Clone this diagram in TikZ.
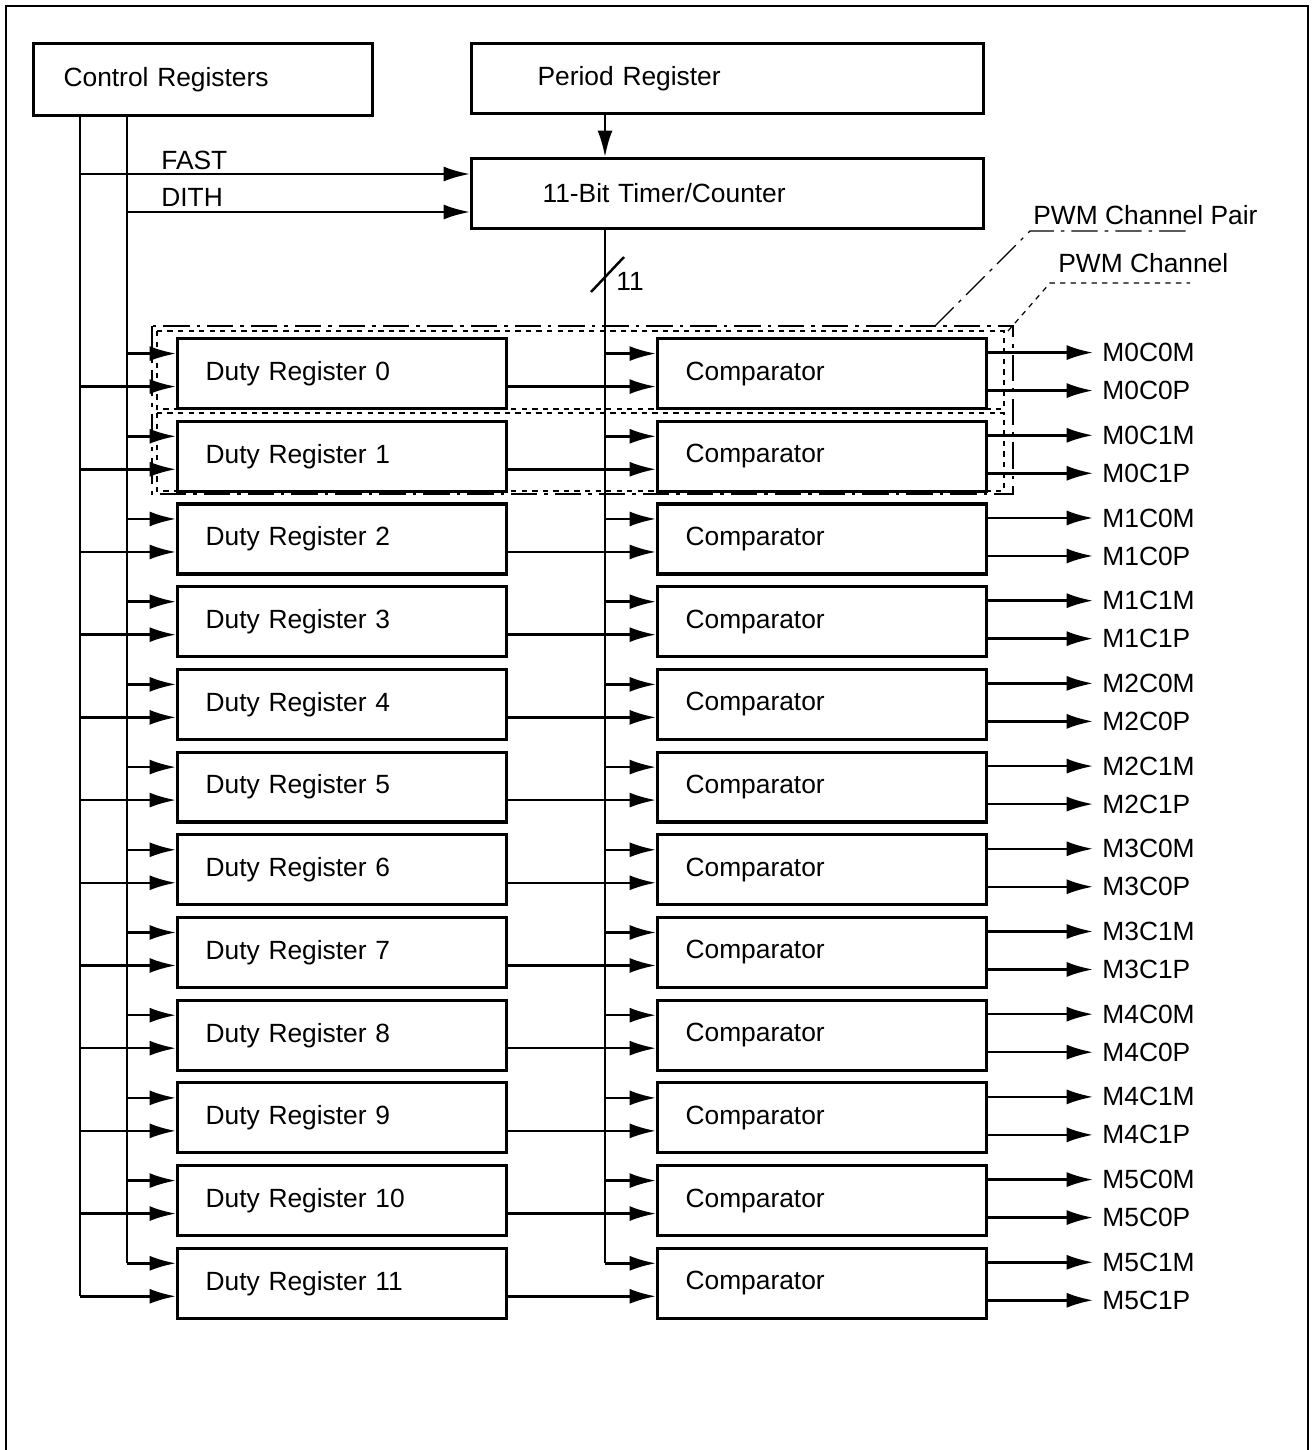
\documentclass[tikz,border=0pt]{standalone}
\usepackage{fontspec}
\setmainfont{Liberation Sans}
\usetikzlibrary{arrows.meta}
\begin{document}
\begin{tikzpicture}[
    x=0.02cm, y=-0.02cm,
    >={Latex[length=15pt,width=8.5pt]},
    font=\fontsize{15pt}{18pt}\selectfont,
    regbox/.style={
        draw,
        line width=1.8pt,
        anchor=north west,
        align=left,
        minimum height=1.4cm,
        inner xsep=0.56cm,
        text width=5.46cm
    },
    wire/.style={line width=1.4pt},
    lbl/.style={inner sep=0.18cm},
    pairline/.style={line width=0.7pt, dash pattern=on 15pt off 4pt on 2pt off 4pt},
    chanline/.style={line width=0.7pt, dash pattern=on 3pt off 3pt}
]

\useasboundingbox (0,0) rectangle (1313,1450);

% Frame
\draw[line width=0.9pt] (6,1450) -- (6,6) -- (1308,6) -- (1308,1450);

% Top blocks
\node[regbox, minimum height=1.44cm, inner xsep=0.6cm, text width=5.58cm] (ctrl) at (32,42) {Control Registers};
\node[regbox, inner xsep=1.32cm, text width=7.6cm] (period) at (470,42) {Period Register};
\node[regbox, inner xsep=1.42cm, text width=7.4cm] (timer) at (470,157) {11-Bit Timer/Counter};

% Control lines and timer bus
\coordinate (ca) at (80,114);
\coordinate (cb) at (127,114);
\coordinate (bus) at (605,227);
\coordinate (fast) at (470,174);
\coordinate (dith) at (470,212);

\draw[wire,->] (period.south -| bus) -- (timer.north -| bus);
\draw[wire,->] (ca |- fast) -- (fast);
\draw[wire,->] (cb |- dith) -- (dith);
\node[anchor=south west, inner sep=0pt] (fastlbl) at (161,170) {FAST};
\node[anchor=south west, inner sep=0pt] (dithlbl) at (161,207) {DITH};

% Bus width
\draw[wire] (591,292) -- (624,257);
\node[lbl, anchor=west] (buswidth) at (607,281) {11};

% Registers and comparators
\foreach \i in {0,...,11} {
    \pgfmathsetmacro{\rowtop}{337+82.7*\i}
    \pgfmathtruncatemacro{\pairno}{\i/2}
    \pgfmathtruncatemacro{\chno}{mod(\i,2)}
    \node[regbox] (duty\i) at (176,\rowtop) {Duty Register \i};
    \node[regbox] (comp\i) at (656,\rowtop) {Comparator};
    \coordinate (dua\i) at ([yshift=0.4cm]duty\i.west);
    \coordinate (dub\i) at ([yshift=-0.26cm]duty\i.west);
    \coordinate (cpa\i) at ([yshift=0.4cm]comp\i.west);
    \coordinate (cpb\i) at ([yshift=-0.26cm]comp\i.west);
    \draw[wire,->] (cb |- dua\i) -- (dua\i);
    \draw[wire,->] (ca |- dub\i) -- (dub\i);
    \draw[wire,->] (bus |- cpa\i) -- (cpa\i);
    \draw[wire,->] (duty\i.east |- cpb\i) -- (cpb\i);
    % Outputs
    \node[lbl, anchor=west] (outm\i) at ([xshift=2.1cm,yshift=0.42cm]comp\i.east) {M\pairno C\chno M};
    \node[lbl, anchor=west] (outp\i) at ([xshift=2.1cm,yshift=-0.34cm]comp\i.east) {M\pairno C\chno P};
    \draw[wire,->] (comp\i.east |- outm\i) -- (outm\i.west);
    \draw[wire,->] (comp\i.east |- outp\i) -- (outp\i.west);
}

\draw[wire] (ca) -- (ca |- dub11);
\draw[wire] (cb) -- (cb |- dua11);
\draw[wire] (bus) -- (bus |- cpa11);

% Channel groups
\draw[pairline] (152,326) rectangle (1013,494);
\draw[chanline] (157,331) rectangle (1004,409);
\draw[chanline] (157,413) rectangle (1004,491);

\node[lbl, anchor=west] (pairlbl) at (1024,215) {PWM Channel Pair};
\node[lbl, anchor=west] (chanlbl) at (1049,263) {PWM Channel};
\draw[pairline] (935,326) -- (1030,231) -- (1192,231);
\draw[chanline] (1008,331) -- (1050,283) -- (1190,283);

\end{tikzpicture}
\end{document}
